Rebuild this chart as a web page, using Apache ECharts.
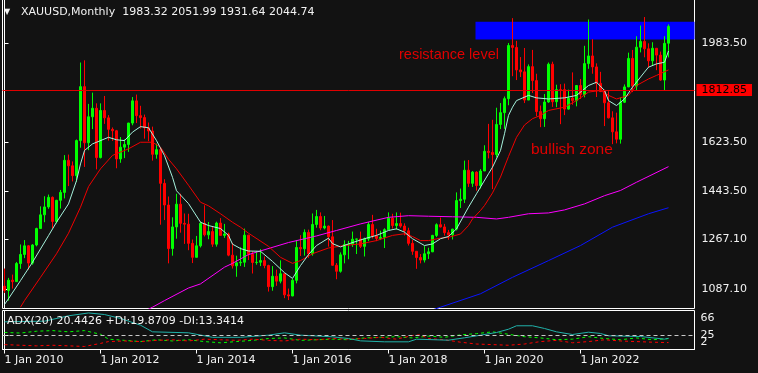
<!DOCTYPE html>
<html>
<head>
<meta charset="utf-8">
<script src="https://cdn.jsdelivr.net/npm/echarts@6/dist/echarts.min.js"></script>
<style>
  html, body { margin: 0; padding: 0; background: #121212; }
  #chart { width: 758px; height: 373px; }
</style>
</head>
<body>
<div id="chart"></div>
<script>
// XAUUSD monthly bars, Jan 2010 .. Nov 2023 (one row per year)
var opens = [
  1096.5,1081,1118.6,1113.3,1179.3,1212.5,1244,1181,1247,1307,1357,1386,
  1421,1333,1410,1439,1556,1536,1500,1628,1825,1620,1715,1746,
  1566,1738,1711,1669,1664,1561,1604,1614,1692,1773,1719,1712,
  1675,1663,1578,1595,1472,1393,1234,1313,1396,1326,1323,1253,
  1202,1244,1326,1284,1296,1250,1327,1282,1287,1210,1171,1182,
  1184,1283,1213,1183,1184,1190,1172,1095,1133,1115,1142,1065,
  1061,1118,1238,1233,1293,1215,1322,1351,1309,1316,1277,1173,
  1151,1211,1248,1249,1268,1269,1242,1269,1322,1280,1271,1275,
  1303,1345,1318,1325,1316,1299,1253,1224,1201,1192,1215,1222,
  1282,1321,1313,1292,1284,1305,1409,1414,1520,1472,1513,1464,
  1517,1589,1585,1577,1687,1730,1781,1975,1968,1886,1879,1776,
  1898,1847,1734,1708,1769,1907,1770,1814,1814,1743,1783,1774,
  1829,1796,1909,1937,1897,1837,1807,1766,1711,1660,1633,1768,
  1824,1928,1827,1969,1990,1963,1919,1965,1940,1849,1983.32
];
var highs = [
  1161,1127,1139,1185,1249,1265,1247,1250,1310,1388,1425,1431,
  1424,1412,1448,1575,1577,1552,1632,1913,1921,1762,1803,1764,
  1764,1791,1721,1676,1667,1641,1633,1693,1787,1796,1755,1723,
  1694,1679,1617,1603,1487,1424,1348,1434,1434,1362,1361,1267,
  1280,1332,1392,1331,1315,1332,1345,1324,1292,1255,1208,1239,
  1307,1284,1224,1224,1232,1205,1175,1170,1157,1191,1143,1088,
  1123,1263,1283,1304,1303,1362,1375,1366,1353,1318,1338,1181,
  1220,1264,1262,1296,1270,1296,1274,1331,1357,1306,1299,1308,
  1366,1361,1366,1365,1326,1310,1266,1225,1214,1243,1237,1284,
  1326,1347,1324,1302,1306,1439,1453,1555,1557,1517,1516,1524,
  1611,1689,1704,1748,1765,1789,1984,2075,1992,1933,1966,1906,
  1959,1872,1756,1798,1913,1916,1832,1834,1836,1814,1877,1831,
  1853,1974,2070,1998,1910,1879,1814,1808,1735,1730,1786,1833,
  1949,1959,2009,2048,2079,1983,1987,1966,1953,2009,2051.99
];
var lows = [
  1072,1044,1088,1113,1160,1199,1157,1175,1242,1308,1330,1379,
  1308,1326,1380,1417,1462,1479,1478,1602,1532,1593,1670,1523,
  1563,1689,1628,1627,1527,1547,1564,1587,1684,1692,1672,1635,
  1626,1555,1562,1321,1338,1180,1208,1270,1292,1251,1228,1181,
  1202,1238,1278,1268,1240,1241,1281,1273,1206,1161,1131,1170,
  1167,1192,1143,1175,1170,1162,1077,1080,1098,1107,1053,1046,
  1060,1107,1207,1208,1200,1208,1310,1301,1304,1241,1171,1122,
  1146,1180,1195,1240,1214,1236,1205,1261,1271,1261,1265,1236,
  1302,1307,1303,1310,1282,1245,1211,1160,1180,1183,1196,1221,
  1276,1311,1281,1266,1267,1300,1382,1400,1459,1459,1445,1453,
  1517,1563,1451,1567,1670,1671,1757,1863,1849,1860,1765,1776,
  1802,1717,1677,1678,1766,1751,1750,1688,1721,1741,1759,1753,
  1780,1786,1890,1872,1787,1805,1681,1709,1615,1618,1617,1765,
  1823,1805,1809,1950,1932,1893,1903,1885,1846,1810,1931.64
];
var closes = [
  1081,1118.6,1113.3,1179.3,1212.5,1244,1181,1247,1307,1357,1386,1421,
  1333,1410,1439,1556,1536,1500,1628,1825,1620,1715,1746,1566,
  1738,1711,1669,1664,1561,1604,1614,1692,1773,1719,1712,1675,
  1663,1578,1595,1472,1393,1234,1313,1396,1326,1323,1253,1202,
  1244,1326,1284,1296,1250,1327,1282,1287,1210,1171,1182,1184,
  1283,1213,1183,1184,1190,1172,1095,1133,1115,1142,1065,1061,
  1118,1238,1233,1293,1215,1322,1351,1309,1316,1277,1173,1151,
  1211,1249,1249,1268,1269,1242,1269,1322,1280,1271,1275,1303,
  1345,1318,1325,1316,1299,1253,1224,1201,1192,1215,1222,1282,
  1321,1313,1292,1284,1305,1409,1414,1520,1472,1513,1464,1517,
  1589,1585,1577,1687,1730,1781,1975,1968,1886,1879,1776,1898,
  1847,1734,1708,1769,1907,1770,1814,1813,1743,1783,1774,1829,
  1796,1909,1937,1897,1837,1807,1766,1711,1660,1633,1768,1824,
  1928,1827,1969,1990,1963,1919,1965,1940,1849,1983,2044.74
];

// moving averages: [bar index, price]
var maFast = [[0,1030],[1,1051],[4,1117],[7,1184],[11,1281],[13,1330],[16,1397],[18,1482],[19,1543],[20,1592],
  [22,1616],[26,1640],[28,1631],[30,1628],[32,1659],[34,1679],[36,1675],[38,1628],[40,1573],[42,1494],[43,1445],
  [46,1398],[49,1330],[51,1318],[54,1307],[56,1282],[57,1250],[59,1234],[61,1225],[64,1224],[67,1187],[70,1146],
  [72,1125],[74,1172],[76,1212],[78,1245],[81,1272],[82,1252],[84,1240],[86,1251],[90,1270],[93,1282],[96,1300],
  [98,1306],[100,1294],[102,1270],[105,1245],[107,1251],[109,1270],[111,1278],[113,1306],[116,1385],[118,1434],
  [121,1507],[122,1531],[124,1592],[125,1653],[126,1720],[127,1750],[128,1774],[131,1793],[133,1784],[136,1780],
  [140,1784],[143,1793],[146,1829],[148,1841],[150,1811],[151,1774],[153,1756],[155,1780],[157,1823],[160,1878],
  [161,1896],[163,1908],[165,1914],[166,1955]];
var maSlow = [[4,1020],[5,1044],[9,1129],[13,1215],[16,1290],[19,1385],[21,1460],[24,1525],[27,1574],[31,1598],
  [34,1622],[37,1622],[39,1604],[41,1560],[43,1525],[46,1465],[49,1403],[51,1390],[54,1361],[57,1330],[59,1312],
  [61,1290],[66,1242],[69,1202],[72,1180],[74,1190],[77,1215],[81,1236],[85,1245],[89,1251],[93,1263],[97,1282],
  [100,1288],[102,1278],[104,1263],[106,1263],[109,1272],[111,1275],[114,1287],[116,1318],[117,1342],[119,1373],
  [120,1391],[122,1437],[124,1495],[126,1570],[128,1640],[130,1685],[132,1708],[134,1720],[136,1738],[140,1750],
  [143,1774],[146,1805],[149,1811],[151,1793],[153,1780],[156,1793],[158,1829],[161,1853],[163,1866],[166,1886]];
var ma100 = [[35,1005],[37,1020],[40,1044],[46,1090],[49,1105],[55,1166],[57,1180],[61,1212],[63,1221],[71,1256],
  [78,1280],[83,1300],[89,1324],[96,1348],[101,1354],[106,1352],[112,1350],[118,1348],[123,1342],[126,1348],
  [131,1361],[136,1364],[140,1375],[145,1397],[150,1427],[154,1446],[158,1476],[166,1533]];
var ma200 = [[105,1000],[109,1020],[119,1069],[127,1129],[136,1190],[144,1245],[152,1312],[161,1361],[166,1383]];

// ADX(20) panel
var adx = [[0,47.4],[10,48.5],[16,57.3],[21,62],[25,59.4],[29,52.9],[34,41.9],[37,31],[46,29.4],[52,22],[59,22],
  [66,25.5],[70,29.4],[74,25.5],[82,22.8],[86,20],[89,16.2],[95,14.6],[101,14.6],[103,18.9],[111,17.3],[115,21.2],
  [119,25.5],[123,29.9],[126,35.3],[128,40.9],[132,40.9],[135,36.5],[138,31],[142,26.6],[146,30.4],[149,28.3],
  [151,24.5],[159,23.3],[165,19],[166,20.4426]];
var diPlus = [[0,30],[4,29],[8,32],[12,33],[16,31],[20,33],[24,27],[26,19],[30,17],[34,15],[38,18],[42,16],[46,18],
  [50,15],[54,13],[58,15],[62,17],[66,20],[70,21],[74,17],[78,18],[82,19],[86,18],[90,21],[94,22],[98,23],[102,21],
  [106,24],[110,22],[114,26],[118,28],[122,31],[126,27],[130,23],[134,21],[138,18],[142,19],[146,23],[150,20],
  [154,18],[158,21],[162,18],[166,19.8709]];
var diMinus = [[0,10],[4,9],[8,8],[12,9],[16,8],[20,7],[24,12],[26,15],[30,16],[34,15],[38,17],[42,18],[46,16],
  [50,19],[54,18],[58,17],[62,19],[66,17],[70,16],[74,19],[78,18],[82,20],[86,19],[90,20],[94,22],[98,19],[102,25],
  [104,26],[106,20],[110,18],[114,14],[118,11],[122,10],[126,9],[130,11],[134,15],[138,17],[142,13],[146,15],
  [150,18],[154,16],[158,15],[162,14],[166,13.3414]];

var priceTicks = [1087.10, 1267.10, 1443.50, 1623.50, 1983.50];
var adxTicks = [2, 25, 66];
var adxEdgeLabels = [2, 66];
var adxLevel = 25;
var xTickIdx = [0, 24, 48, 72, 96, 120, 144];
var xTickLabels = ['1 Jan 2010', '1 Jan 2012', '1 Jan 2014', '1 Jan 2016', '1 Jan 2018', '1 Jan 2020', '1 Jan 2022'];

var levelLine = 1812.85;
var zoneStart = 117.75, zoneLow = 1997, zoneHigh = 2062;

var nSlots = 173;
var slots = [];
for (var i = 0; i < nSlots; i++) slots.push(i);
var last = closes.length - 1;

var font = 'DejaVu Sans';
var white = '#f2f2f2';

var candles = opens.map(function (o, k) { return [o, closes[k], lows[k], highs[k]]; });

var chart = echarts.init(document.getElementById('chart'));

function maLine(name, data, color) {
  return {
    name: name, type: 'line', xAxisIndex: 1, yAxisIndex: 0, data: data,
    symbol: 'none', z: 3, lineStyle: { color: color, width: 1 }, silent: true
  };
}

var option = {
  backgroundColor: '#121212',
  animation: false,
  textStyle: { fontFamily: font },
  grid: [
    { left: 2.5, right: 63.5, top: -0.5, height: 309, show: true, borderColor: '#fff', borderWidth: 1, outerBoundsMode: 'none' },
    { left: 2.5, right: 63.5, top: 310.5, height: 39, show: true, borderColor: '#fff', borderWidth: 1, outerBoundsMode: 'none' }
  ],
  xAxis: [
    { gridIndex: 0, type: 'category', data: slots, show: false, boundaryGap: true },
    { gridIndex: 0, type: 'value', min: -0.5, max: nSlots - 0.5, show: false },
    {
      gridIndex: 1, type: 'value', min: -0.5, max: nSlots - 0.5,
      axisLine: { show: true, lineStyle: { color: '#fff' } },
      axisTick: { show: true, length: 4, customValues: xTickIdx, lineStyle: { color: '#fff' } },
      axisLabel: {
        customValues: xTickIdx, align: 'left', margin: 5, color: white, fontSize: 11, fontFamily: font,
        formatter: function (v) { return xTickLabels[xTickIdx.indexOf(v)] || ''; }
      },
      splitLine: { show: false }
    }
  ],
  yAxis: [
    {
      gridIndex: 0, type: 'value', position: 'right', min: 1015.2, max: 2143.0,
      axisLine: { show: true, lineStyle: { color: '#fff' } },
      axisTick: { show: true, length: 4, customValues: priceTicks, lineStyle: { color: '#fff' } },
      axisLabel: {
        customValues: priceTicks, margin: 7, color: white, fontSize: 11, fontFamily: font,
        formatter: function (v) { return v.toFixed(2); }
      },
      splitLine: { show: false }
    },
    {
      gridIndex: 1, type: 'value', position: 'right', min: 2, max: 66,
      axisLine: { show: true, lineStyle: { color: '#fff' } },
      axisTick: { show: true, length: 4, customValues: adxTicks, lineStyle: { color: '#fff' } },
      axisLabel: {
        customValues: adxEdgeLabels, margin: 6, color: white, fontSize: 11, fontFamily: font,
        showMinLabel: true, showMaxLabel: true, hideOverlap: false,
        formatter: function (v) { return v === 66 ? '{t|66}' : '{b|' + v + '}'; },
        rich: {
          t: { padding: [15, 0, 0, 0], color: white, fontSize: 11, fontFamily: font },
          b: { padding: [0, 0, 14, 0], color: white, fontSize: 11, fontFamily: font }
        }
      },
      splitLine: { show: false }
    }
  ],
  series: [
    {
      name: 'zone', type: 'line', xAxisIndex: 1, yAxisIndex: 0, data: ma200, z: 1,
      symbol: 'none', lineStyle: { color: '#0a14ff', width: 1 }, silent: true,
      markArea: {
        silent: true,
        itemStyle: { color: '#0000ff', opacity: 1 },
        data: [[{ xAxis: zoneStart, yAxis: zoneLow }, { xAxis: nSlots - 0.5, yAxis: zoneHigh }]]
      }
    },
    {
      name: 'XAUUSD', type: 'candlestick', xAxisIndex: 0, yAxisIndex: 0, data: candles, z: 2,
      barWidth: 3,
      itemStyle: { color: '#00ff00', color0: '#ff0000', borderColor: '#00ff00', borderColor0: '#ff0000', borderWidth: 1 },
      markLine: {
        silent: true, symbol: ['none', 'none'], animation: false,
        data: [
          {
            yAxis: levelLine, lineStyle: { color: '#e00000', width: 1, type: 'solid' },
            label: {
              show: true, position: 'end', distance: 2, formatter: levelLine.toFixed(2),
              backgroundColor: '#ff0000', color: '#000', padding: [1, 5, 0, 5], fontSize: 11, fontFamily: font
            }
          },
          {
            yAxis: closes[last], lineStyle: { opacity: 0 },
            label: {
              show: true, position: 'end', distance: 6, formatter: closes[last].toFixed(2),
              backgroundColor: '#ffffff', color: '#000', padding: [1, 3, 0, 3], fontSize: 11, fontFamily: font
            }
          }
        ]
      }
    },
    maLine('MA100', ma100, '#ff00ff'),
    maLine('MA slow', maSlow, '#f00000'),
    maLine('MA fast', maFast, '#a6f2dd'),
    {
      name: '+DI', type: 'line', xAxisIndex: 2, yAxisIndex: 1, data: diPlus, symbol: 'none', silent: true,
      lineStyle: { color: '#00ff00', width: 1, type: [3, 3] }
    },
    {
      name: '-DI', type: 'line', xAxisIndex: 2, yAxisIndex: 1, data: diMinus, symbol: 'none', silent: true,
      lineStyle: { color: '#ff0000', width: 1, type: [3, 3] }
    },
    {
      name: 'ADX', type: 'line', xAxisIndex: 2, yAxisIndex: 1, data: adx, symbol: 'none', silent: true, z: 3,
      lineStyle: { color: '#20b2aa', width: 1 },
      markLine: {
        silent: true, symbol: ['none', 'none'],
        lineStyle: { color: '#c8c8c8', width: 1, type: [4, 3] },
        label: { show: true, position: 'end', distance: 6, formatter: String(adxLevel), color: white, fontSize: 11, fontFamily: font },
        data: [{ yAxis: adxLevel }]
      }
    }
  ],
  graphic: [
    { type: 'text', x: 4, y: 12, z: 100, style: { text: '\u25BC', fill: white, font: '8px ' + font, verticalAlign: 'middle' } },
    {
      type: 'text', x: 21, y: 12, z: 100,
      style: {
        text: 'XAUUSD,Monthly  ' + [opens[last], highs[last], lows[last], closes[last]].map(function (v) { return v.toFixed(2); }).join(' '),
        fill: white, font: '11px ' + font, verticalAlign: 'middle'
      }
    },
    {
      type: 'text', x: 7, y: 321, z: 100,
      style: {
        text: 'ADX(20) ' + adx[adx.length - 1][1].toFixed(4) + ' +DI:' + diPlus[diPlus.length - 1][1].toFixed(4) +
          ' -DI:' + diMinus[diMinus.length - 1][1].toFixed(4),
        fill: white, font: '11px ' + font, verticalAlign: 'middle'
      }
    },
    { type: 'text', x: 399, y: 55, z: 100, style: { text: 'resistance level', fill: '#e00000', font: '14.5px "Liberation Sans"', verticalAlign: 'middle' } },
    { type: 'text', x: 531, y: 150, z: 100, style: { text: 'bullish zone', fill: '#e00000', font: '15.5px "Liberation Sans"', verticalAlign: 'middle' } }
  ]
};

chart.setOption(option);
</script>
</body>
</html>
